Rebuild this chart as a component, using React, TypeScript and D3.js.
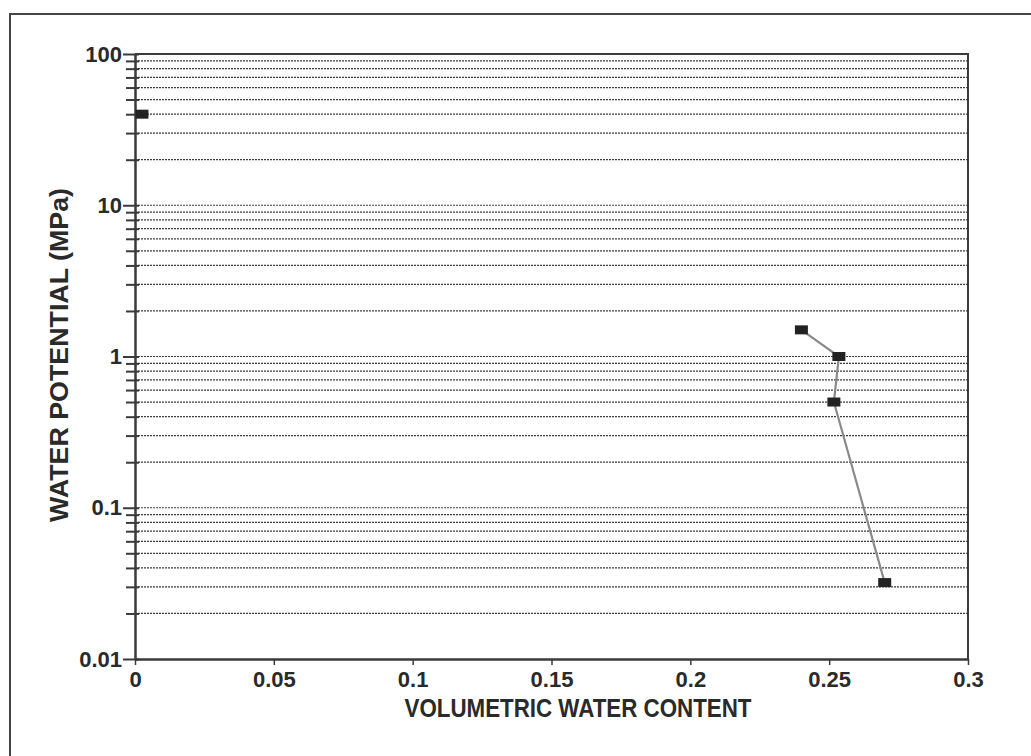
import React, { useEffect, useRef } from 'react';
import * as d3 from 'd3';

// x axis ticks and labels
const xTickValues = [0, 0.05, 0.1, 0.15, 0.2, 0.25, 0.3];
const xTickLabels = ['0', '0.05', '0.1', '0.15', '0.2', '0.25', '0.3'];

// y axis decades and labels
const yDecades = [0.01, 0.1, 1, 10, 100];
const yTickLabels = ['0.01', '0.1', '1', '10', '100'];

// measured curve (connected points)
const curveWater = [0.24, 0.2535, 0.2517, 0.27];
const curvePotential = [1.5, 1.0, 0.5, 0.032];

// single unconnected point near the y axis
const loneWater = [0.0025];
const lonePotential = [40];

const WIDTH = 1031;
const HEIGHT = 756;
const FONT = '"Liberation Sans", Arial, Helvetica, sans-serif';
const INK = '#2a2a2a';

const App: React.FC = () => {
  const svgRef = useRef<SVGSVGElement>(null);

  useEffect(() => {
    if (!svgRef.current) return;
    const svg = d3.select(svgRef.current);
    svg.selectAll('*').remove();

    const left = 135;
    const right = 968;
    const top = 54;
    const bottom = 659;

    const x = d3.scaleLinear().domain([0, 0.3]).range([left, right]);
    const y = d3.scaleLog().domain([0.01, 100]).range([bottom, top]);

    // outer frame of the figure (right/bottom edges fall off the page)
    svg.append('rect')
      .attr('x', 10)
      .attr('y', 14)
      .attr('width', 1100)
      .attr('height', 900)
      .attr('fill', 'none')
      .attr('stroke', '#444')
      .attr('stroke-width', 2);

    // every 1..9 multiple in each decade
    const allTicks: number[] = [];
    yDecades.slice(0, -1).forEach(d => {
      for (let m = 1; m <= 9; m++) allTicks.push(d * m);
    });
    allTicks.push(100);

    // dotted gridlines
    svg.append('g')
      .selectAll('line')
      .data(allTicks.filter(v => v > 0.01 && v < 100))
      .enter()
      .append('line')
      .attr('x1', left)
      .attr('x2', right)
      .attr('y1', d => y(d))
      .attr('y2', d => y(d))
      .attr('stroke', '#3c3c3c')
      .attr('stroke-width', 1.2)
      .attr('stroke-dasharray', '2,1');

    // plot frame top and right
    svg.append('path')
      .attr('d', `M${left},${top}H${right}V${bottom}`)
      .attr('fill', 'none')
      .attr('stroke', '#3a3a3a')
      .attr('stroke-width', 2);

    // y axis
    const isMajor = (v: number) => yDecades.some(d => Math.abs(d - v) / d < 1e-6);
    const yAxis = d3.axisLeft(y)
      .tickValues(allTicks)
      .tickSizeInner(9)
      .tickSizeOuter(0)
      .tickPadding(4)
      .tickFormat(v => {
        const i = yDecades.findIndex(d => Math.abs(d - (v as number)) / d < 1e-6);
        return i >= 0 ? yTickLabels[i] : '';
      });

    const gy = svg.append('g')
      .attr('transform', `translate(${left},0)`)
      .call(yAxis);
    gy.select('.domain').attr('stroke', '#3a3a3a').attr('stroke-width', 2.5);
    gy.selectAll('.tick line')
      .attr('stroke', '#3a3a3a')
      .attr('stroke-width', 2)
      .attr('x1', 4)
      .attr('x2', d => (isMajor(d as number) ? -12 : -9));
    gy.selectAll('.tick text')
      .attr('x', -13)
      .style('font-family', FONT)
      .style('font-size', '22px')
      .style('font-weight', 'bold')
      .attr('fill', INK);

    // x axis
    const xAxis = d3.axisBottom(x)
      .tickValues(xTickValues)
      .tickSizeInner(6)
      .tickSizeOuter(0)
      .tickPadding(6)
      .tickFormat((_, i) => xTickLabels[i]);

    const gx = svg.append('g')
      .attr('transform', `translate(0,${bottom})`)
      .call(xAxis);
    gx.select('.domain').attr('stroke', '#3a3a3a').attr('stroke-width', 2.5);
    gx.selectAll('.tick line').attr('stroke', '#3a3a3a').attr('stroke-width', 1.5);
    gx.selectAll('.tick text')
      .style('font-family', FONT)
      .style('font-size', '22px')
      .style('font-weight', 'bold')
      .attr('fill', INK);

    // axis titles
    svg.append('text')
      .attr('x', 578)
      .attr('y', 717)
      .attr('text-anchor', 'middle')
      .attr('textLength', 347)
      .attr('lengthAdjust', 'spacingAndGlyphs')
      .style('font-family', FONT)
      .style('font-size', '25px')
      .style('font-weight', 'bold')
      .attr('fill', INK)
      .text('VOLUMETRIC WATER CONTENT');

    svg.append('text')
      .attr('transform', 'translate(68,355) rotate(-90)')
      .attr('text-anchor', 'middle')
      .attr('textLength', 334)
      .attr('lengthAdjust', 'spacingAndGlyphs')
      .style('font-family', FONT)
      .style('font-size', '25px')
      .style('font-weight', 'bold')
      .attr('fill', INK)
      .text('WATER POTENTIAL (MPa)');

    // curve
    const pts = curveWater.map((w, i) => [w, curvePotential[i]] as [number, number]);
    const line = d3.line<[number, number]>()
      .x(d => x(d[0]))
      .y(d => y(d[1]));

    svg.append('path')
      .datum(pts)
      .attr('d', line)
      .attr('fill', 'none')
      .attr('stroke', '#8a8a8a')
      .attr('stroke-width', 2.2);

    const markers = pts.concat(loneWater.map((w, i) => [w, lonePotential[i]] as [number, number]));
    svg.append('g')
      .selectAll('rect')
      .data(markers)
      .enter()
      .append('rect')
      .attr('x', d => x(d[0]) - 6.5)
      .attr('y', d => y(d[1]) - 4.5)
      .attr('width', 13)
      .attr('height', 9)
      .attr('fill', '#222');
  }, []);

  return (
    <div style={{ position: 'absolute', left: 0, top: 0 }}>
      <svg ref={svgRef} width={WIDTH} height={HEIGHT} style={{ display: 'block', background: '#fff' }} />
    </div>
  );
};

export default App;
